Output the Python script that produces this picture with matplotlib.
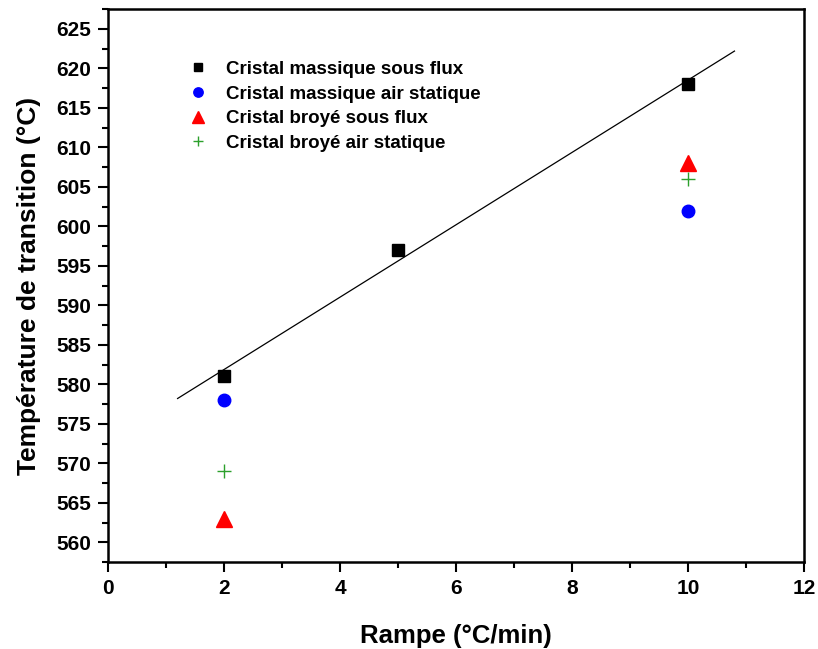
import numpy as np
import matplotlib.pyplot as plt

plt.rcParams['font.family'] = ['Liberation Sans', 'DejaVu Sans']
plt.rcParams['font.weight'] = 'bold'

# donnees
rampe_mass_flux = [2, 5, 10]
temp_mass_flux = [581, 597, 618]
rampe_mass_air = [2, 10]
temp_mass_air = [578, 602]
rampe_broye_flux = [2, 10]
temp_broye_flux = [563, 608]
rampe_broye_air = [2, 10]
temp_broye_air = [569, 606]

fig = plt.figure(figsize=(8.18, 6.49), dpi=100)
ax = fig.add_axes([0.132, 0.134, 0.851, 0.852])

# regression lineaire sur les cristaux massiques sous flux
coef = np.polyfit(rampe_mass_flux, temp_mass_flux, 1)
xfit = np.linspace(1.2, 10.8, 50)
ax.plot(xfit, np.polyval(coef, xfit), color='black', lw=0.9, zorder=1)

ax.plot(rampe_mass_flux, temp_mass_flux, 's', color='black', ms=8,
        label='Cristal massique sous flux')
ax.plot(rampe_mass_air, temp_mass_air, 'o', color='blue', ms=9,
        label='Cristal massique air statique')
ax.plot(rampe_broye_flux, temp_broye_flux, '^', color='red', ms=11,
        label='Cristal broyé sous flux')
ax.plot(rampe_broye_air, temp_broye_air, '+', color='#2ca02c', ms=10, mew=1,
        label='Cristal broyé air statique')

ax.set_xlim(0, 12)
ax.set_ylim(557.5, 627.5)
ax.set_xticks(np.arange(0, 13, 2))
ax.set_xticks(np.arange(1, 12, 2), minor=True)
ax.set_yticks(np.arange(560, 626, 5))
ax.set_yticks(np.arange(557.5, 628, 5), minor=True)
ax.tick_params(which='major', length=7, width=1.5, labelsize=15, pad=5)
ax.tick_params(which='minor', length=4, width=1.5)
for s in ax.spines.values():
    s.set_linewidth(1.8)

ax.set_xlabel('Rampe (°C/min)', fontsize=18.5, fontweight='bold', labelpad=19)
ax.set_ylabel('Température de transition (°C)', fontsize=19, fontweight='bold', labelpad=11)

leg = ax.legend(loc='upper left', bbox_to_anchor=(0.092, 0.937), frameon=False,
                handletextpad=1.0, labelspacing=0.4, markerscale=0.75,
                handlelength=1.0, prop={'weight': 'bold', 'size': 13.5})

fig.savefig('out.png', dpi=100)
